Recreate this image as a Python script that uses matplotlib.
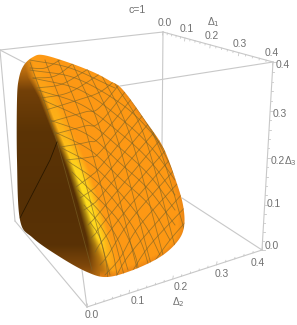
import numpy as np
import matplotlib
matplotlib.use('Agg')
import matplotlib.pyplot as plt
from matplotlib.patches import Polygon

plt.rcParams['font.family'] = ['Liberation Sans', 'DejaVu Sans']

GRAY = '#c8c8c8'
LABEL = '#707070'
MESH = '#7a6226'

# surface outline (pixels)
outline_x = [43, 67, 93, 110, 123, 147, 163, 175, 183, 184, 177, 160, 133, 107, 87, 60, 33, 20, 17, 17, 19, 24, 33]
outline_y = [55, 62, 72, 81, 90, 123, 147, 178, 205, 227, 242, 257, 270, 277, 272, 257, 238, 220, 160, 100, 78, 65, 57]

# crease between dark and lit side
ridge_y = [55, 77, 97, 133, 157, 170, 203, 237, 257, 280]
ridge_x = [28, 33, 43, 57, 67, 72, 83, 93, 100, 108]
ridge_glow = [0.05, 0.1, 0.25, 0.4, 0.7, 0.9, 1.0, 0.85, 0.35, 0.0]
ridge_soft = [6, 6, 5, 5, 5, 5, 6, 7, 11, 18]

dark_y = [55, 70, 90, 130, 200, 245, 265, 280]
dark_r = [205, 185, 115, 92, 86, 90, 125, 170]
dark_g = [125, 108, 64, 52, 48, 50, 70, 98]
dark_b = [20, 15, 8, 5, 5, 5, 10, 15]

# mesh curves, three families
steep_lines = [
    [(30, 62), (55, 135), (92, 270)],
    [(45, 60), (72, 135), (110, 275)],
    [(58, 60), (87, 135), (124, 275)],
    [(72, 62), (102, 135), (138, 272)],
    [(86, 66), (116, 135), (152, 268)],
    [(100, 72), (130, 135), (165, 262)],
    [(114, 82), (144, 135), (176, 250)],
    [(126, 92), (158, 145), (186, 235)],
    [(140, 108), (170, 165), (190, 215)],
]
down_lines = [
    [(30, 60), (70, 68), (115, 88)],
    [(30, 70), (75, 78), (120, 103), (150, 131), (175, 165)],
    [(33, 78), (80, 90), (120, 118), (150, 146), (175, 180)],
    [(38, 90), (82, 105), (120, 133), (150, 161), (175, 195)],
    [(43, 100), (85, 120), (120, 148), (150, 176), (175, 210)],
    [(50, 120), (88, 135), (120, 163), (150, 191), (175, 225)],
    [(55, 132), (90, 150), (120, 178), (150, 206), (170, 240)],
    [(60, 147), (92, 165), (120, 193), (145, 225), (160, 255)],
    [(66, 160), (95, 180), (120, 208), (140, 240), (150, 270)],
    [(72, 172), (97, 197), (120, 223), (135, 255), (140, 280)],
    [(78, 190), (100, 212), (118, 240), (128, 270)],
    [(84, 205), (100, 225), (112, 250), (118, 280)],
    [(90, 222), (100, 238), (106, 262), (108, 280)],
]
up_lines = [
    [(30, 68), (45, 68), (60, 60)],
    [(33, 78), (55, 76), (75, 62)],
    [(37, 88), (62, 84), (90, 68)],
    [(42, 98), (70, 92), (103, 72)],
    [(46, 110), (78, 100), (100, 92), (118, 78)],
    [(50, 122), (85, 112), (100, 107), (133, 67)],
    [(55, 134), (85, 126), (100, 122), (133, 82)],
    [(61, 147), (88, 142), (100, 137), (133, 97), (150, 77)],
    [(66, 160), (90, 157), (100, 152), (133, 112), (155, 86)],
    [(76, 187), (92, 175), (100, 167), (133, 127), (155, 101)],
    [(80, 198), (92, 190), (100, 182), (133, 142), (155, 116)],
    [(84, 210), (93, 204), (100, 197), (133, 157), (165, 120)],
    [(88, 225), (94, 219), (100, 212), (133, 172), (170, 128)],
    [(91, 238), (96, 233), (100, 227), (133, 187), (175, 140)],
    [(95, 252), (98, 247), (103, 240), (133, 202), (180, 148)],
    [(100, 265), (108, 255), (133, 217), (185, 158)],
    [(105, 275), (120, 258), (140, 225), (190, 170)],
    [(115, 278), (133, 250), (190, 185)],
    [(130, 275), (150, 245), (190, 202)],
    [(150, 268), (170, 240), (192, 215)],
]

# box corners
front_bottom = (87, 307)
right_bottom = (262, 250)
back_top = (163, 32)
right_top = (273, 62)

box_x = [[87, 15], [15, 0], [0, 163], [163, 273], [273, 262], [262, 87], [262, 182], [273, 120], [0, 25], [163, 162], [87, 82]]
box_y = [[307, 221], [221, 50], [50, 32], [32, 62], [62, 250], [250, 307], [250, 198], [62, 86], [50, 63], [32, 146], [307, 270]]

# axis ticks: major values and where they sit along each edge (0..1)
major_vals = [0.0, 0.1, 0.2, 0.3, 0.4]
major_labels = ['0.0', '0.1', '0.2', '0.3', '0.4']
d1_frac = [0.0, 0.2, 0.43, 0.69, 1.0]
d2_frac = [0.0, 0.24, 0.49, 0.74, 1.0]
d3_frac = [0.0, 0.24, 0.49, 0.74, 1.0]

d1_label_x = [165, 187, 212, 240, 272]
d1_label_y = [23, 29, 36, 44, 53]
d2_label_x = [92, 138, 181, 222, 258]
d2_label_y = [315, 301, 287, 274, 263]
d3_label_x = [272, 274, 278, 280, 283]
d3_label_y = [246, 204, 161, 114, 65]


def smooth(pts, closed=False, n=16):
    # catmull-rom through the traced points
    p = np.array(pts, float)
    if closed:
        p = np.vstack([p[-1], p, p[0], p[1]])
    else:
        p = np.vstack([2 * p[0] - p[1], p, 2 * p[-1] - p[-2]])
    t = np.linspace(0, 1, n, endpoint=False)[:, None]
    out = []
    for i in range(1, len(p) - 2):
        a, b, c, d = p[i - 1], p[i], p[i + 1], p[i + 2]
        out.append(0.5 * (2 * b + (c - a) * t + (2 * a - 5 * b + 4 * c - d) * t ** 2 + (3 * b - a - 3 * c + d) * t ** 3))
    out = np.vstack(out)
    if not closed:
        out = np.vstack([out, p[-2]])
    return out


def shade_image(edge):
    # rgb raster, colour stops are placed row by row relative to the crease
    H, W = 325, 297
    img = np.ones((H, W, 3))
    orange = np.array([253, 152, 20.])
    yellow = np.array([255, 222, 30.])
    rim = np.array([232, 130, 20.])
    for y in range(45, 285):
        near = np.abs(edge[:, 1] - y) < 2.5
        if not near.any():
            continue
        right = edge[near, 0].max()
        rx = np.interp(y, ridge_y, ridge_x)
        glow = np.interp(y, ridge_y, ridge_glow)
        soft = np.interp(y, ridge_y, ridge_soft)
        dark = np.array([np.interp(y, dark_y, dark_r), np.interp(y, dark_y, dark_g), np.interp(y, dark_y, dark_b)])
        lit = orange + (yellow - orange) * glow
        stops = [-200, rx - soft, rx - 1, rx + soft * 0.5, rx + 7, rx + 17, right - 7, right + 1]
        stops = list(np.maximum.accumulate(stops))
        for c in range(3):
            vals = [dark[c], dark[c], (dark[c] + lit[c]) / 2, lit[c], lit[c], orange[c], orange[c], rim[c]]
            img[y, :, c] = np.interp(np.arange(W), stops, vals) / 255
    # lit side falls off towards the lower edge
    for x in range(100, 190):
        near = np.abs(edge[:, 0] - x) < 2.5
        if not near.any():
            continue
        low = edge[near, 1].max()
        for y in range(int(low) - 7, min(int(low) + 3, 325)):
            w = np.clip((y - (low - 7)) / 7, 0, 1)
            img[y, x] = img[y, x] * (1 - w) + rim / 255 * w
    return img


fig = plt.figure(figsize=(2.97, 3.25), dpi=100)
ax = fig.add_axes([0, 0, 1, 1])
ax.set_xlim(0, 297)
ax.set_ylim(325, 0)
ax.axis('off')

for xs, ys in zip(box_x, box_y):
    ax.plot(xs, ys, color=GRAY, lw=0.8, zorder=1)


def draw_ticks(start, end, fracs, dx, dy):
    s, e = np.array(start, float), np.array(end, float)
    vals = np.arange(0, 0.4001, 0.02)
    f = np.interp(vals, major_vals, fracs)
    for v, fr in zip(vals, f):
        pt = s + (e - s) * fr
        k = 1.0 if abs(v * 10 - round(v * 10)) < 1e-6 else 0.5
        ax.plot([pt[0], pt[0] + dx * k], [pt[1], pt[1] + dy * k], color=GRAY, lw=0.6, zorder=1)


draw_ticks(back_top, right_top, d1_frac, -0.5, 3)
draw_ticks(front_bottom, right_bottom, d2_frac, 0.5, -3)
draw_ticks(right_bottom, right_top, d3_frac, 3, 0)

edge = smooth(list(zip(outline_x, outline_y)), closed=True)
clip = Polygon(edge, closed=True, transform=ax.transData, fc='none', ec='none')
ax.add_patch(clip)
im = ax.imshow(shade_image(edge), extent=(0, 297, 325, 0), interpolation='bilinear', zorder=2, aspect='auto')
im.set_clip_path(clip)
ax.set_xlim(0, 297)
ax.set_ylim(325, 0)

for fam in (steep_lines, down_lines, up_lines):
    for pts in fam:
        c = smooth(pts)
        ln, = ax.plot(c[:, 0], c[:, 1], color=MESH, lw=0.6, alpha=0.65, zorder=3)
        ln.set_clip_path(clip)

# dark crease line on the shadow side
ln, = ax.plot([20, 50, 57], [218, 160, 142], color='#2a1800', lw=0.6, zorder=3)
ln.set_clip_path(clip)

fs = 7.4
for x, y, s in zip(d1_label_x, d1_label_y, major_labels):
    ax.text(x, y, s, color=LABEL, fontsize=fs, ha='center', va='center')
for x, y, s in zip(d2_label_x, d2_label_y, major_labels):
    ax.text(x, y, s, color=LABEL, fontsize=fs, ha='center', va='center')
for x, y, s in zip(d3_label_x, d3_label_y, major_labels):
    ax.text(x, y, s, color=LABEL, fontsize=fs, ha='center', va='center')
ax.text(213, 22, 'Δ$_1$', color=LABEL, fontsize=fs, ha='center', va='center')
ax.text(178, 302, 'Δ$_2$', color=LABEL, fontsize=fs, ha='center', va='center')
ax.text(290, 161, 'Δ$_3$', color=LABEL, fontsize=fs, ha='center', va='center')
ax.text(137, 10, 'c=1', color=LABEL, fontsize=7.6, ha='center', va='center')

fig.savefig('out.png', dpi=100)
